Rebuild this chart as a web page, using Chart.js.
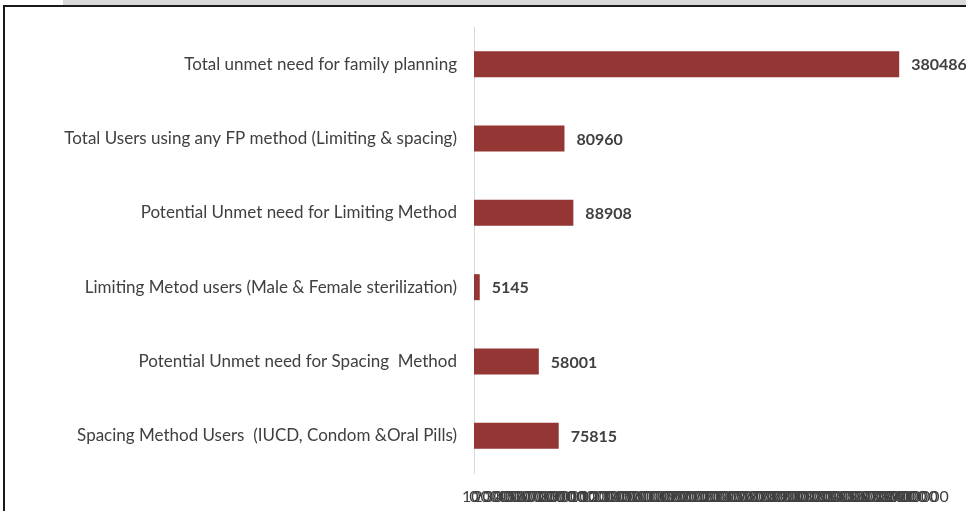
<!DOCTYPE html>
<html>
<head>
<meta charset="utf-8">
<script src="https://cdn.jsdelivr.net/npm/chart.js@4/dist/chart.umd.min.js"></script>
<style>
  html, body { margin: 0; padding: 0; background: #fff; width: 966px; height: 511px; overflow: hidden; }
  .band { position: absolute; left: 63px; top: 0; width: 903px; height: 5px; background: #d9d9d9; }
  .frame { position: absolute; left: 3px; top: 5px; width: 961px; height: 506px; border-top: 2px solid #1a1a1a; border-left: 2px solid #1a1a1a; }
  .frame canvas { display: block; }
</style>
</head>
<body>
<div class="band"></div>
<div class="frame"><canvas id="chart" width="961" height="504"></canvas></div>
<script>
(function () {

  const categories = [
    'Total unmet need for family planning',
    'Total Users using any FP method (Limiting & spacing)',
    'Potential Unmet need for Limiting Method',
    'Limiting Metod users (Male & Female sterilization)',
    'Potential Unmet need for Spacing  Method',
    'Spacing Method Users  (IUCD, Condom &Oral Pills)'
  ];
  const values = [380486, 80960, 88908, 5145, 58001, 75815];
  const axisMin = 0;
  const axisMax = 400000;
  const axisStep = 10000;

  const labelFont = 'Lato, "Liberation Sans", sans-serif';

  // bold value labels at the end of each bar
  const valueLabels = {
    id: 'valueLabels',
    afterDatasetsDraw(chart) {
      const ctx = chart.ctx;
      const meta = chart.getDatasetMeta(0);
      ctx.save();
      ctx.font = 'bold 16px ' + labelFont;
      ctx.fillStyle = '#404040';
      ctx.textAlign = 'left';
      ctx.textBaseline = 'middle';
      meta.data.forEach(function (bar, i) {
        ctx.fillText(String(values[i]), bar.x + 12, bar.y + 1);
      });
      ctx.restore();
    }
  };

  const config = {
    type: 'bar',
    data: {
      labels: categories,
      datasets: [{
        data: values,
        backgroundColor: '#943634',
        borderWidth: 0,
        categoryPercentage: 1,
        barPercentage: 0.35
      }]
    },
    options: {
      indexAxis: 'y',
      responsive: false,
      animation: false,
      layout: { padding: { top: 20, right: 45, bottom: 4, left: 0 } },
      plugins: { legend: { display: false }, tooltip: { enabled: false } },
      scales: {
        y: {
          grid: { display: false, drawTicks: false },
          border: { display: true, color: '#d9d9d9', width: 1 },
          ticks: { color: '#404040', font: { family: labelFont, size: 17 }, padding: 17 },
          afterFit(scale) {
            scale.width = 469;
            scale.paddingTop = 0;
            scale.paddingBottom = 0;
          }
        },
        x: {
          min: axisMin,
          max: axisMax,
          grid: { display: false, drawTicks: false },
          border: { display: false },
          ticks: {
            stepSize: axisStep,
            autoSkip: false,
            maxRotation: 0,
            minRotation: 0,
            padding: 14,
            color: '#404040',
            font: { family: labelFont, size: 16 },
            callback: function (v) { return String(v); }
          },
          afterFit(scale) { scale.height = 34; }
        }
      }
    },
    plugins: [valueLabels]
  };

  const chart = new Chart(document.getElementById('chart'), config);

})();
</script>
</body>
</html>
